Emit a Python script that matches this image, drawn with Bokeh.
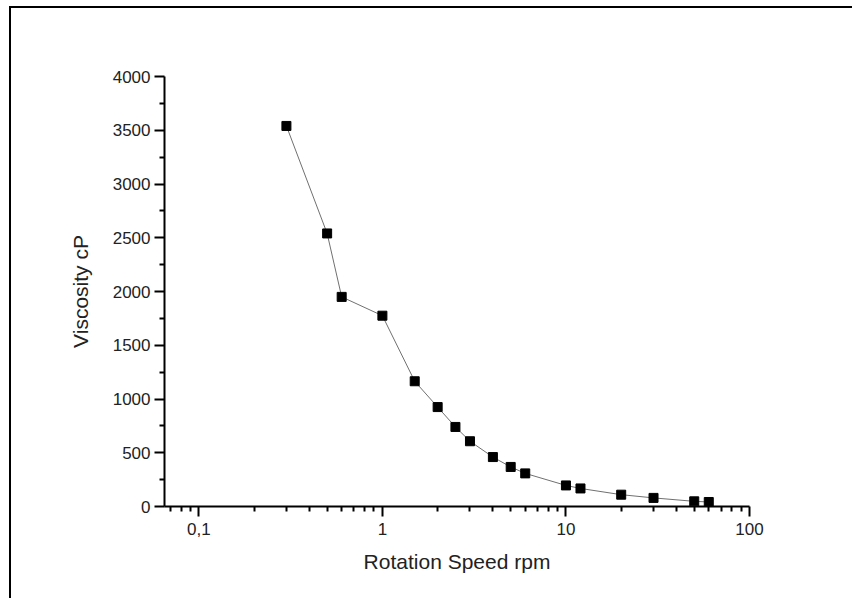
from bokeh.plotting import figure
from bokeh.models import Range1d, FixedTicker, CustomJSTickFormatter, ColumnDataSource
from bokeh.embed import file_html
from bokeh.resources import INLINE

speed_rpm = [0.3, 0.5, 0.6, 1, 1.5, 2, 2.5, 3, 4, 5, 6, 10, 12, 20, 30, 50, 60]
viscosity_cp = [3540, 2540, 1950, 1775, 1165, 925, 740, 607, 460, 368, 308, 196, 168, 110, 80, 48, 42]

x_major = [0.1, 1, 10, 100]
x_minor = [0.07, 0.08, 0.09, 0.2, 0.3, 0.4, 0.5, 0.6, 0.7, 0.8, 0.9,
           2, 3, 4, 5, 6, 7, 8, 9, 20, 30, 40, 50, 60, 70, 80, 90]
y_major = [0, 500, 1000, 1500, 2000, 2500, 3000, 3500, 4000]
y_minor = [250, 750, 1250, 1750, 2250, 2750, 3250, 3750]

src = ColumnDataSource(dict(x=speed_rpm, y=viscosity_cp))

p = figure(width=843, height=592, x_axis_type="log",
           x_range=Range1d(0.065, 100), y_range=Range1d(0, 4000),
           output_backend="svg", toolbar_location=None,
           min_border_left=153, min_border_top=68, min_border_right=105, min_border_bottom=94)
p.margin = (6, 0, 0, 9)

p.styles = {"border-top": "2px solid black", "border-left": "2px solid black"}

p.line("x", "y", source=src, line_color="#707070", line_width=1)
p.scatter("x", "y", source=src, marker="square", size=9, fill_color="black", line_color="black")

p.xgrid.visible = False
p.ygrid.visible = False
p.outline_line_color = None
p.background_fill_color = "white"
p.border_fill_color = "white"

for ax in (p.xaxis[0], p.yaxis[0]):
    ax.axis_line_width = 2
    ax.axis_line_color = "black"
    ax.major_tick_line_width = 2
    ax.minor_tick_line_width = 2
    ax.major_tick_line_color = "black"
    ax.minor_tick_line_color = "black"
    ax.major_tick_out = 10
    ax.major_tick_in = 0
    ax.minor_tick_out = 5
    ax.minor_tick_in = 0
    ax.major_label_text_font = "Liberation Sans"
    ax.major_label_text_font_size = "17px"
    ax.major_label_text_color = "#222222"
    ax.axis_label_text_font = "Liberation Sans"
    ax.axis_label_text_font_size = "21px"
    ax.axis_label_text_font_style = "normal"
    ax.axis_label_text_color = "#222222"

p.xaxis[0].ticker = FixedTicker(ticks=x_major, minor_ticks=x_minor)
p.xaxis[0].formatter = CustomJSTickFormatter(code="return tick.toString().replace('.', ',');")
p.xaxis[0].axis_label = "Rotation Speed rpm"
p.xaxis[0].major_label_standoff = 6
p.xaxis[0].axis_label_standoff = 12

p.yaxis[0].ticker = FixedTicker(ticks=y_major, minor_ticks=y_minor)
p.yaxis[0].axis_label = "Viscosity cP"
p.yaxis[0].major_label_standoff = 4
p.yaxis[0].axis_label_standoff = 18

open("out.html", "w").write(file_html(p, INLINE))
